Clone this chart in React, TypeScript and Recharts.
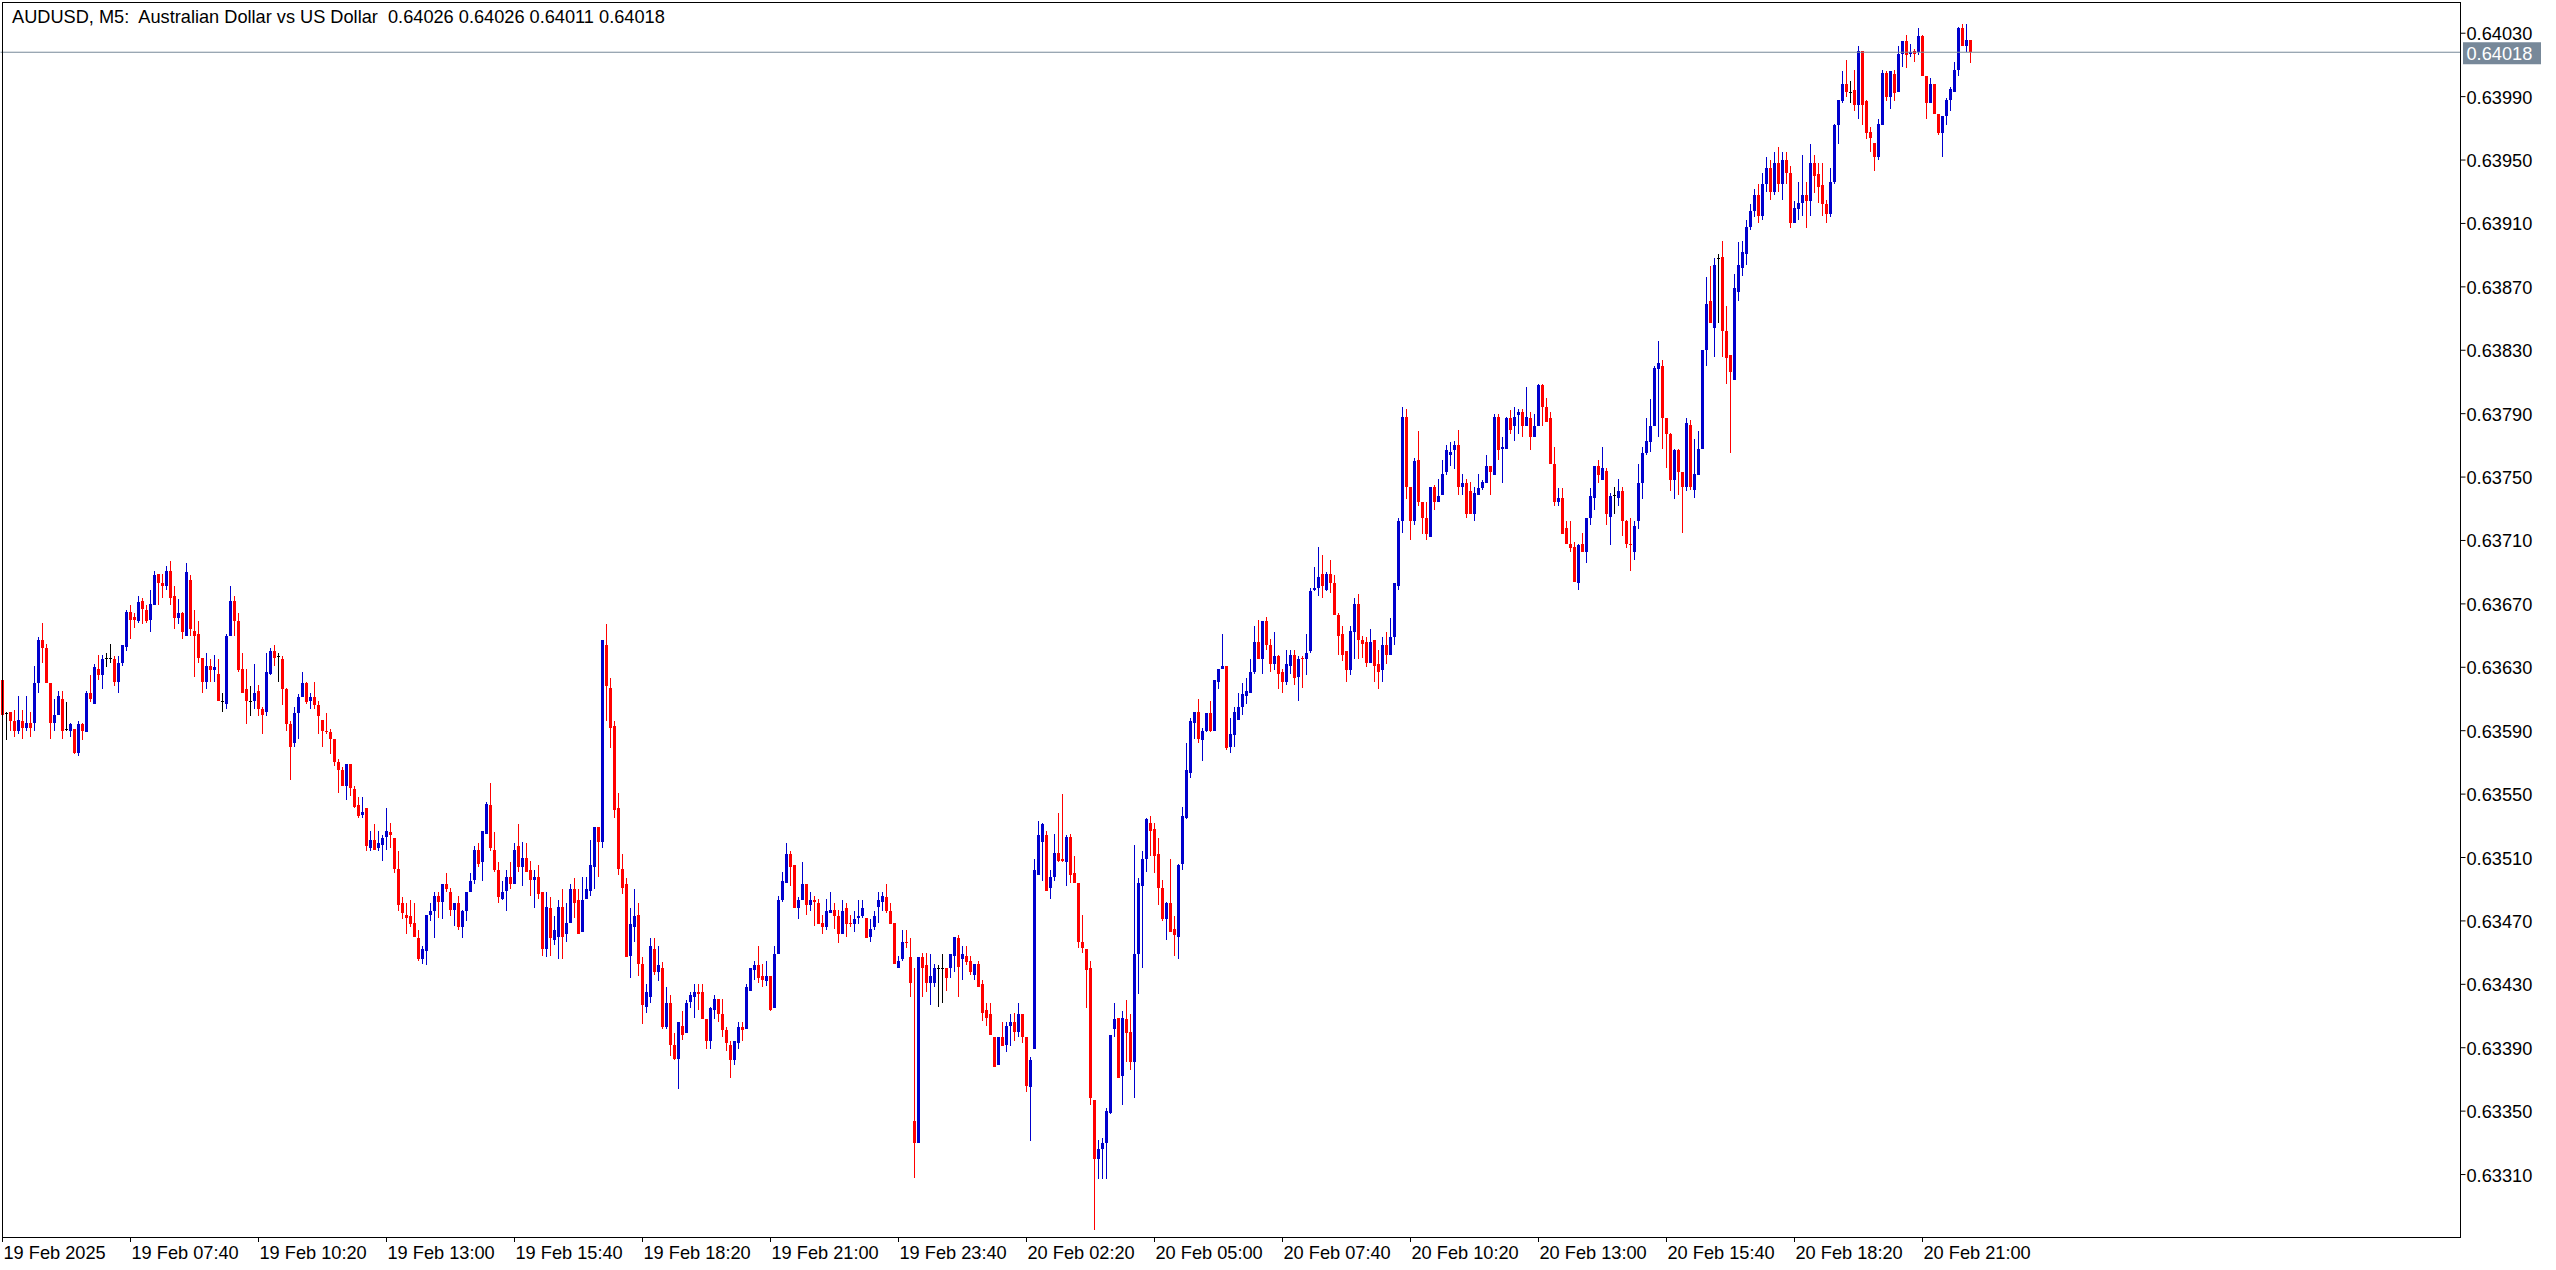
import { Bar, ComposedChart, ReferenceLine, XAxis, YAxis } from "recharts";

const TITLE = "AUDUSD, M5:  Australian Dollar vs US Dollar  0.64026 0.64026 0.64011 0.64018";

// M5 bars from 19 Feb 05:00, [open, high, low, close] in points (x 1e-5)
const ohlc: number[][] = [
  [63622,63622,63600,63600],[63601,63602,63584,63601],[63602,63602,63590,63596],[63596,63603,63586,63590],[63590,63612,63588,63597],
  [63596,63603,63585,63592],[63592,63612,63590,63595],[63595,63602,63586,63592],[63595,63631,63590,63620],[63620,63649,63614,63647],
  [63647,63658,63633,63642],[63642,63645,63620,63620],[63620,63620,63585,63595],[63595,63610,63590,63600],[63600,63615,63600,63612],
  [63610,63615,63585,63590],[63591,63608,63590,63591],[63590,63595,63586,63594],[63591,63591,63575,63576],[63576,63596,63574,63594],
  [63594,63595,63584,63590],[63589,63615,63589,63614],[63614,63625,63608,63610],[63607,63632,63607,63630],[63629,63638,63622,63625],
  [63625,63638,63616,63635],[63636,63639,63630,63636],[63636,63645,63633,63636],[63635,63637,63618,63621],[63621,63637,63614,63633],
  [63633,63644,63631,63644],[63643,63666,63640,63665],[63665,63669,63648,63660],[63662,63664,63655,63660],[63659,63675,63658,63671],
  [63672,63674,63657,63667],[63666,63669,63658,63659],[63660,63679,63652,63670],[63669,63691,63669,63688],[63689,63689,63669,63683],
  [63683,63689,63674,63681],[63681,63694,63679,63691],[63691,63697,63669,63674],[63675,63681,63654,63661],[63661,63673,63657,63664],
  [63664,63665,63648,63652],[63650,63696,63650,63690],[63685,63688,63650,63654],[63653,63666,63624,63650],[63651,63659,63633,63636],
  [63636,63636,63614,63621],[63621,63639,63616,63631],[63631,63635,63621,63628],[63628,63638,63621,63630],[63626,63635,63609,63609],
  [63609,63614,63602,63609],[63607,63651,63604,63650],[63650,63681,63650,63672],[63672,63675,63650,63659],[63659,63664,63627,63628],
  [63629,63639,63614,63614],[63616,63629,63594,63609],[63609,63618,63599,63609],[63609,63632,63604,63614],[63615,63619,63599,63604],
  [63604,63605,63588,63600],[63602,63639,63599,63627],[63626,63642,63625,63640],[63640,63644,63631,63636],[63637,63639,63621,63637],
  [63635,63637,63606,63616],[63616,63617,63590,63594],[63594,63596,63559,63580],[63582,63605,63580,63601],[63601,63613,63585,63611],
  [63611,63627,63611,63620],[63620,63621,63607,63608],[63609,63614,63604,63611],[63611,63621,63604,63606],[63606,63609,63588,63599],
  [63597,63597,63580,63590],[63590,63601,63588,63589],[63589,63591,63575,63585],[63585,63585,63568,63570],[63570,63572,63551,63565],
  [63565,63567,63555,63555],[63555,63569,63546,63569],[63569,63569,63549,63554],[63553,63555,63541,63542],[63543,63548,63535,63536],
  [63537,63548,63535,63539],[63541,63541,63514,63517],[63516,63527,63514,63521],[63521,63531,63515,63515],[63516,63527,63514,63519],
  [63518,63524,63508,63522],[63523,63541,63515,63527],[63526,63532,63516,63524],[63522,63522,63500,63503],[63503,63514,63476,63480],
  [63481,63485,63471,63475],[63474,63481,63462,63472],[63473,63483,63466,63468],[63469,63481,63460,63460],[63459,63464,63445,63446],
  [63446,63454,63443,63452],[63451,63474,63442,63474],[63474,63481,63470,63476],[63476,63488,63459,63486],[63486,63488,63472,63482],
  [63482,63493,63471,63493],[63493,63500,63488,63490],[63488,63491,63473,63477],[63477,63481,63467,63481],[63481,63486,63464,63466],
  [63466,63477,63459,63476],[63476,63488,63470,63488],[63488,63500,63488,63495],[63496,63517,63493,63515],[63515,63519,63504,63506],
  [63507,63527,63495,63527],[63525,63545,63525,63544],[63543,63557,63514,63516],[63515,63526,63501,63502],[63502,63507,63481,63485],
  [63484,63495,63483,63488],[63489,63502,63476,63498],[63498,63507,63490,63493],[63493,63519,63493,63515],[63517,63531,63501,63504],
  [63504,63520,63492,63510],[63510,63519,63501,63501],[63502,63508,63486,63496],[63496,63502,63478,63498],[63498,63505,63484,63487],
  [63488,63488,63448,63452],[63452,63488,63447,63479],[63478,63485,63448,63459],[63458,63473,63455,63464],[63460,63483,63446,63479],
  [63479,63490,63446,63460],[63462,63481,63457,63469],[63469,63493,63469,63490],[63490,63497,63472,63481],[63483,63490,63462,63462],
  [63463,63498,63463,63483],[63484,63498,63484,63490],[63489,63521,63486,63505],[63504,63529,63490,63529],[63529,63529,63498,63520],
  [63520,63647,63516,63647],[63644,63657,63596,63618],[63617,63623,63579,63592],[63593,63596,63535,63540],[63541,63551,63499,63503],
  [63503,63512,63487,63491],[63493,63497,63447,63447],[63448,63478,63434,63468],[63466,63490,63457,63473],[63474,63481,63435,63443],
  [63443,63447,63405,63417],[63416,63430,63412,63425],[63422,63459,63418,63454],[63452,63459,63436,63438],[63438,63454,63432,63442],
  [63440,63444,63402,63403],[63403,63428,63402,63418],[63418,63423,63385,63392],[63392,63399,63382,63383],[63383,63406,63364,63406],
  [63404,63413,63395,63398],[63399,63420,63399,63418],[63419,63425,63415,63423],[63422,63430,63409,63425],[63425,63430,63414,63424],
  [63425,63430,63408,63408],[63408,63408,63389,63394],[63394,63416,63389,63415],[63414,63423,63408,63421],[63421,63421,63406,63411],
  [63411,63421,63397,63401],[63401,63403,63388,63393],[63392,63394,63371,63382],[63382,63394,63379,63394],[63393,63406,63389,63403],
  [63403,63406,63394,63401],[63402,63430,63402,63428],[63426,63440,63426,63440],[63439,63445,63433,63442],[63442,63454,63431,63434],
  [63435,63443,63428,63433],[63432,63445,63429,63435],[63435,63435,63413,63414],[63415,63454,63415,63449],[63449,63486,63449,63483],
  [63483,63501,63482,63495],[63494,63519,63494,63512],[63512,63514,63492,63504],[63505,63505,63478,63478],[63478,63485,63471,63483],
  [63483,63507,63483,63493],[63493,63493,63474,63480],[63480,63488,63476,63483],[63483,63486,63467,63482],[63481,63484,63468,63468],
  [63469,63474,63462,63466],[63466,63484,63464,63476],[63475,63488,63475,63477],[63477,63481,63465,63473],[63473,63477,63456,63462],
  [63462,63483,63462,63476],[63478,63481,63460,63468],[63469,63474,63466,63468],[63468,63476,63463,63471],[63472,63483,63468,63473],
  [63473,63483,63472,63478],[63472,63472,63459,63459],[63460,63471,63457,63465],[63466,63476,63464,63473],[63479,63488,63469,63483],
  [63482,63488,63476,63486],[63485,63493,63475,63476],[63476,63481,63468,63468],[63469,63469,63443,63443],[63440,63448,63440,63445],
  [63446,63464,63445,63457],[63457,63464,63453,63456],[63447,63459,63422,63431],[63344,63440,63308,63330],[63330,63447,63330,63447],
  [63447,63450,63422,63440],[63442,63450,63425,63431],[63431,63449,63417,63435],[63431,63443,63428,63440],[63440,63442,63416,63440],
  [63440,63449,63418,63440],[63440,63440,63426,63434],[63440,63449,63434,63449],[63448,63460,63438,63460],[63459,63461,63422,63441],
  [63446,63454,63433,63449],[63448,63454,63442,63444],[63445,63448,63436,63438],[63436,63443,63433,63443],[63443,63445,63428,63428],
  [63430,63433,63407,63412],[63414,63418,63404,63409],[63411,63418,63398,63398],[63397,63397,63378,63378],[63379,63397,63379,63397],
  [63397,63406,63391,63391],[63392,63406,63387,63404],[63404,63411,63391,63406],[63406,63412,63394,63400],[63400,63418,63397,63411],
  [63411,63411,63393,63397],[63397,63397,63362,63366],[63365,63384,63331,63382],[63389,63509,63389,63502],[63499,63533,63499,63524],
  [63520,63532,63495,63531],[63524,63527,63489,63489],[63491,63502,63484,63498],[63498,63525,63495,63513],[63513,63538,63507,63508],
  [63509,63550,63507,63508],[63507,63524,63492,63523],[63523,63525,63494,63499],[63500,63511,63494,63494],[63494,63494,63453,63457],
  [63457,63474,63450,63453],[63452,63452,63415,63439],[63440,63445,63354,63358],[63357,63357,63275,63320],[63320,63332,63307,63326],
  [63326,63333,63307,63330],[63330,63352,63307,63350],[63349,63398,63348,63398],[63402,63418,63397,63408],[63409,63409,63371,63371],
  [63372,63413,63354,63409],[63408,63420,63381,63399],[63400,63411,63376,63381],[63381,63518,63358,63449],[63449,63497,63424,63494],
  [63492,63514,63440,63509],[63509,63535,63501,63534],[63532,63536,63511,63527],[63528,63532,63500,63511],[63512,63522,63480,63491],
  [63491,63496,63470,63471],[63471,63482,63458,63481],[63481,63509,63463,63463],[63465,63473,63448,63461],[63460,63506,63446,63505],
  [63506,63542,63502,63536],[63535,63582,63534,63565],[63563,63598,63560,63596],[63595,63602,63585,63602],[63602,63610,63582,63585],
  [63584,63592,63571,63590],[63590,63601,63589,63601],[63601,63609,63589,63590],[63590,63622,63590,63622],[63621,63629,63616,63629],
  [63629,63651,63629,63631],[63631,63631,63578,63579],[63580,63598,63576,63588],[63587,63605,63580,63602],[63597,63614,63597,63605],
  [63605,63620,63600,63613],[63612,63623,63607,63615],[63614,63635,63614,63627],[63627,63656,63626,63646],[63646,63660,63635,63635],
  [63635,63659,63626,63659],[63659,63662,63641,63644],[63644,63648,63627,63632],[63632,63652,63628,63637],[63637,63638,63616,63626],
  [63627,63629,63614,63621],[63621,63641,63619,63632],[63631,63641,63626,63638],[63638,63641,63619,63623],[63624,63637,63609,63635],
  [63636,63637,63617,63635],[63635,63651,63625,63639],[63640,63680,63639,63678],[63679,63693,63678,63680],[63680,63706,63675,63687],
  [63689,63701,63674,63681],[63679,63690,63678,63689],[63689,63698,63677,63683],[63683,63688,63663,63663],[63663,63664,63638,63650],
  [63651,63656,63634,63638],[63640,63640,63621,63628],[63628,63656,63625,63653],[63652,63674,63635,63670],[63670,63676,63635,63647],
  [63647,63650,63636,63645],[63646,63649,63630,63633],[63633,63654,63633,63646],[63647,63647,63621,63631],[63632,63641,63616,63627],
  [63628,63649,63621,63644],[63644,63652,63632,63638],[63638,63661,63638,63649],[63649,63683,63644,63683],[63681,63724,63679,63722],
  [63722,63794,63715,63788],[63788,63793,63736,63744],[63744,63744,63710,63722],[63722,63762,63720,63760],[63761,63779,63732,63734],
  [63734,63734,63714,63724],[63724,63734,63710,63714],[63712,63744,63712,63744],[63744,63745,63729,63734],[63734,63749,63734,63738],
  [63739,63761,63739,63752],[63753,63770,63751,63767],[63764,63772,63757,63766],[63767,63773,63755,63770],[63770,63780,63739,63744],
  [63744,63752,63739,63746],[63746,63749,63724,63727],[63741,63747,63727,63727],[63727,63744,63722,63740],[63739,63752,63739,63743],
  [63743,63748,63742,63747],[63746,63764,63746,63757],[63757,63757,63739,63753],[63751,63790,63751,63788],[63788,63790,63761,63767],
  [63768,63775,63746,63769],[63768,63788,63768,63787],[63787,63792,63777,63780],[63782,63794,63773,63788],[63789,63793,63777,63791],
  [63791,63793,63775,63782],[63782,63807,63782,63788],[63787,63791,63767,63775],[63775,63790,63775,63782],[63782,63809,63782,63808],
  [63808,63809,63782,63794],[63794,63800,63785,63785],[63787,63791,63758,63758],[63758,63769,63732,63734],[63734,63743,63732,63737],
  [63737,63743,63714,63714],[63718,63722,63708,63708],[63708,63722,63703,63705],[63706,63709,63684,63684],[63683,63708,63679,63707],
  [63708,63715,63703,63703],[63703,63724,63696,63724],[63724,63743,63720,63738],[63737,63757,63729,63757],[63757,63761,63746,63751],
  [63748,63769,63748,63756],[63754,63756,63720,63727],[63725,63740,63707,63738],[63739,63744,63727,63739],[63737,63749,63732,63741],
  [63741,63744,63713,63722],[63722,63723,63705,63708],[63708,63724,63691,63707],[63703,63722,63698,63719],[63722,63758,63717,63746],
  [63746,63769,63736,63765],[63765,63787,63764,63773],[63772,63799,63766,63782],[63782,63820,63782,63819],[63818,63836,63775,63822],
  [63820,63824,63768,63787],[63787,63787,63756,63777],[63777,63778,63741,63748],[63748,63768,63736,63767],[63767,63768,63739,63753],
  [63753,63753,63715,63744],[63744,63787,63741,63784],[63783,63786,63742,63744],[63742,63774,63737,63752],[63751,63779,63751,63768],
  [63768,63830,63768,63830],[63830,63876,63820,63859],[63861,63883,63847,63847],[63844,63888,63826,63884],[63888,63891,63847,63888],
  [63889,63899,63826,63842],[63842,63858,63809,63825],[63827,63827,63765,63816],[63811,63878,63811,63869],[63867,63898,63861,63884],
  [63882,63899,63877,63892],[63891,63912,63884,63908],[63908,63922,63906,63918],[63918,63932,63914,63928],[63928,63935,63910,63915],
  [63915,63942,63912,63935],[63935,63952,63930,63945],[63945,63950,63925,63930],[63930,63955,63928,63948],[63948,63958,63930,63935],
  [63935,63955,63925,63950],[63950,63955,63935,63942],[63942,63946,63907,63910],[63910,63924,63910,63920],[63919,63936,63912,63923],
  [63923,63953,63915,63928],[63928,63936,63907,63924],[63924,63960,63915,63948],[63948,63953,63929,63940],[63941,63948,63923,63933],
  [63934,63948,63915,63922],[63922,63925,63910,63916],[63916,63945,63914,63936],[63936,63973,63935,63972],[63972,63988,63960,63988],
  [63987,64006,63986,63998],[63998,64013,63990,63993],[63993,64000,63986,63993],[63994,64007,63981,63985],[63985,64022,63976,64019],
  [64019,64019,63972,63985],[63987,63988,63963,63967],[63968,63971,63955,63964],[63961,63961,63943,63952],[63952,63976,63950,63973],
  [63972,64007,63972,64005],[64005,64006,63987,63990],[63990,64006,63982,64006],[64004,64007,63987,63992],[63993,64022,63993,64017],
  [64017,64025,64009,64025],[64025,64029,64008,64016],[64017,64023,64015,64018],[64019,64020,64012,64017],[64018,64033,64016,64028],
  [64028,64029,64003,64003],[64003,64003,63976,63986],[63986,64002,63986,63998],[63998,63998,63979,63979],[63979,63979,63966,63967],
  [63967,63978,63952,63978],[63978,63989,63972,63988],[63988,63996,63981,63995],[63993,64012,63993,64007],[64007,64034,64003,64033],
  [64033,64036,64022,64022],[64022,64036,64018,64026],[64026,64026,64011,64018],
];

const timeTickIndex = [0, 32, 64, 96, 128, 160, 192, 224, 256, 288, 320, 352, 384, 416, 448, 480];
const timeTickLabels = [
  "19 Feb 2025", "19 Feb 07:40", "19 Feb 10:20", "19 Feb 13:00", "19 Feb 15:40", "19 Feb 18:20",
  "19 Feb 21:00", "19 Feb 23:40", "20 Feb 02:20", "20 Feb 05:00", "20 Feb 07:40", "20 Feb 10:20",
  "20 Feb 13:00", "20 Feb 15:40", "20 Feb 18:20", "20 Feb 21:00",
];
const priceTicks = [
  0.6331, 0.6335, 0.6339, 0.6343, 0.6347, 0.6351, 0.6355, 0.6359, 0.6363, 0.6367,
  0.6371, 0.6375, 0.6379, 0.6383, 0.6387, 0.6391, 0.6395, 0.6399, 0.6403,
];
const lastPrice = 0.64018;

const SLOTS = 615; // bar slots across the plot, the right part stays empty (chart shift)
const FONT = "'Liberation Sans', Arial, sans-serif";
const FS = 18.2;
const UP = "#0000CD";
const DOWN = "#FF0000";

const rows = Array.from({ length: SLOTS }, (_, i) => {
  const b = ohlc[i];
  if (!b) return { i };
  const [o, h, l, c] = b.map((v) => v / 1e5);
  return { i, o, h, l, c, range: [l, h] };
});

function Candle(props: any) {
  const { x, y, width, height, payload } = props;
  if (!payload || payload.h == null || x == null) return null;
  const { o, h, l, c } = payload;
  const cx = x + width / 2;
  const top = Math.min(y, y + height);
  const span = Math.abs(height);
  const py = (p: number) => (h === l ? top : top + ((h - p) / (h - l)) * span);
  const color = c > o ? UP : c < o ? DOWN : "#000";
  const bTop = py(Math.max(o, c));
  const bBot = py(Math.min(o, c));
  return (
    <g shapeRendering="crispEdges">
      <rect x={cx - 0.5} y={py(h)} width={1} height={Math.max(1, py(l) - py(h))} fill={color} />
      <rect x={cx - 1.5} y={bTop} width={3} height={Math.max(1, bBot - bTop)} fill={color} />
    </g>
  );
}

function PriceTick(props: any) {
  const { x, y, payload } = props;
  return (
    <text x={x} y={y} dy={7} fontFamily={FONT} fontSize={FS} fill="#000" textAnchor="start">
      {Number(payload.value).toFixed(5)}
    </text>
  );
}

function TimeTick(props: any) {
  const { x, y, payload } = props;
  const idx = timeTickIndex.indexOf(Number(payload.value));
  return (
    <text x={x + 1} y={y + 15} fontFamily={FONT} fontSize={FS} fill="#000" textAnchor="start">
      {timeTickLabels[idx] ?? ""}
    </text>
  );
}

function LastPriceLabel(props: any) {
  const vb = props.viewBox || {};
  const right = (vb.x ?? 0) + (vb.width ?? 0);
  const yy = vb.y ?? 0;
  return (
    <g>
      <rect x={right + 2.5} y={yy - 10} width={78} height={22} fill="#778899" />
      <text x={right + 6} y={yy + 7.5} fontFamily={FONT} fontSize={FS} fill="#fff">
        {lastPrice.toFixed(5)}
      </text>
    </g>
  );
}

export default function App() {
  return (
    <div style={{ position: "absolute", left: 0, top: 0, width: 2556, height: 1270, background: "#fff" }}>
      <ComposedChart
        width={2556}
        height={1270}
        data={rows}
        margin={{ top: 2, right: 0, bottom: 0, left: 0.5 }}
        barCategoryGap={0}
      >
        <XAxis
          dataKey="i"
          type="category"
          ticks={timeTickIndex}
          interval={0}
          height={33}
          axisLine={false}
          tickLine={{ stroke: "#000" }}
          tickSize={5}
          tick={<TimeTick />}
        />
        <YAxis
          orientation="right"
          type="number"
          domain={[0.632706, 0.640497]}
          allowDataOverflow
          ticks={priceTicks}
          interval={0}
          width={95.5}
          axisLine={false}
          tickLine={{ stroke: "#000" }}
          tickSize={5}
          tickMargin={1}
          tick={<PriceTick />}
        />
        <ReferenceLine y={lastPrice} stroke="#778899" strokeWidth={1} label={<LastPriceLabel />} />
        <Bar dataKey="range" shape={<Candle />} isAnimationActive={false} />
      </ComposedChart>
      <div
        style={{
          position: "absolute",
          left: 2,
          top: 2,
          width: 2459,
          height: 1236,
          boxSizing: "border-box",
          border: "1px solid #000",
          pointerEvents: "none",
        }}
      />
      <svg style={{ position: "absolute", left: 0, top: 0 }} width={900} height={40}>
        <text x={12} y={23} fontFamily={FONT} fontSize={FS} fill="#000" xmlSpace="preserve">
          {TITLE}
        </text>
      </svg>
    </div>
  );
}
